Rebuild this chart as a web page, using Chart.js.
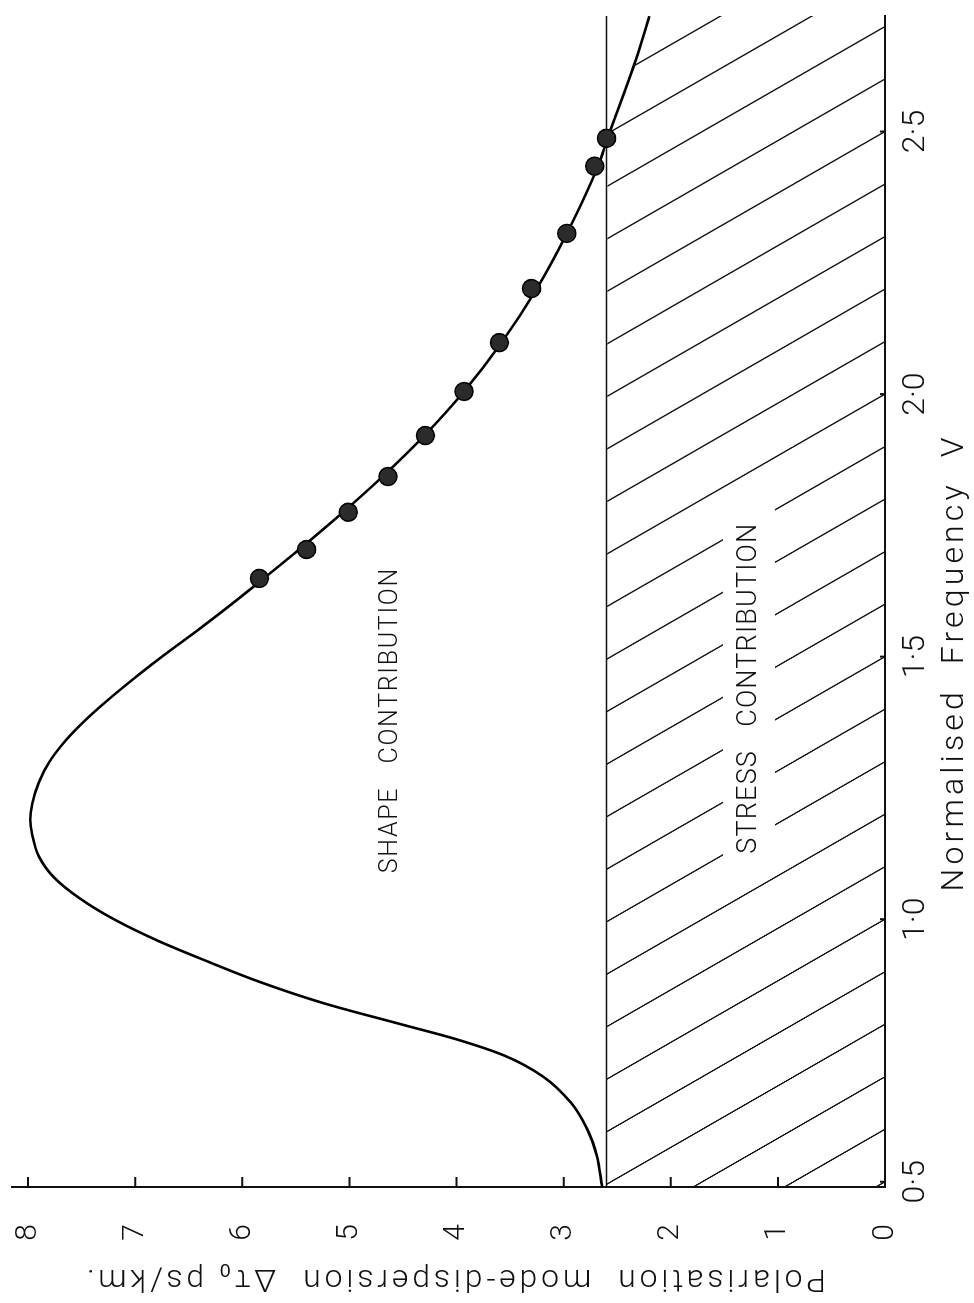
<!DOCTYPE html>
<html>
<head>
<meta charset="utf-8">
<script src="https://cdn.jsdelivr.net/npm/chart.js@4.4.1/dist/chart.umd.min.js"></script>
<style>
html, body { margin: 0; padding: 0; background: #fff; overflow: hidden; }
/* the figure is printed sideways: draw it upright, then turn it a quarter left */
#wrap { position: absolute; left: 0; top: 0; width: 1303px; height: 974px;
        transform-origin: 0 0; transform: translateY(1303px) rotate(-90deg); }
canvas { display: block; }
</style>
</head>
<body>
<div id="wrap"><canvas id="chart" width="1303" height="974"></canvas></div>
<script>
// normalised frequency V (x) and polarisation mode-dispersion, ps/km (y)
const curveV = [0.49, 0.55, 0.60, 0.65, 0.70, 0.74, 0.77, 0.80, 0.84, 0.88, 0.92, 0.96, 1.00, 1.04,
                1.08, 1.12, 1.16, 1.19, 1.22, 1.26, 1.30, 1.34, 1.38, 1.42, 1.47, 1.50, 1.556, 1.60,
                1.649, 1.704, 1.775, 1.843, 1.921, 2.005, 2.098, 2.201, 2.306, 2.434, 2.487, 2.64, 2.72];
const curveD = [2.64, 2.69, 2.78, 2.93, 3.19, 3.55, 3.98, 4.52, 5.24, 5.83, 6.33, 6.80, 7.20, 7.52,
                7.76, 7.90, 7.96, 7.98, 7.96, 7.90, 7.80, 7.65, 7.46, 7.24, 6.94, 6.75, 6.38, 6.10,
                5.80, 5.47, 5.06, 4.69, 4.30, 3.93, 3.58, 3.25, 2.97, 2.68, 2.59, 2.32, 2.20];

// measured points
const pointV = [1.649, 1.704, 1.775, 1.843, 1.921, 2.005, 2.098, 2.201, 2.306, 2.434, 2.487];
const pointD = [5.84, 5.40, 5.01, 4.64, 4.29, 3.93, 3.60, 3.30, 2.97, 2.71, 2.60];

const stressLevel = 2.6;
const vMin = 0.49, vMax = 2.72;
const dMin = 0, dMax = 8.15;

const freqTicks = [0.5, 1.0, 1.5, 2.0, 2.5];
const freqTickLabels = ['0·5', '1·0', '1·5', '2·0', '2·5'];
const dispTicks = [0, 1, 2, 3, 4, 5, 6, 7, 8];
const dispTickLabels = ['0', '1', '2', '3', '4', '5', '6', '7', '8'];

const xTitle = 'Normalised  Frequency  V';
const yTitle = 'Polarisation  mode-dispersion  \u0394\u03C4\u2080 ps/km.';
const shapeLabel = 'SHAPE   CONTRIBUTION';
const stressLabel = 'STRESS   CONTRIBUTION';

// hatching: one line every 0.1 in V along the axis, leaning 0.305 in V across the band
const hatchAnchorV = 2.0, hatchStepV = 0.1, hatchShiftV = 0.305;

const FONT = "Roboto, 'Liberation Sans', sans-serif";

const curve = curveV.map((v, i) => ({ x: v, y: curveD[i] }));
const points = pointV.map((v, i) => ({ x: v, y: pointD[i] }));
const stress = [{ x: vMin, y: stressLevel }, { x: vMax, y: stressLevel }];
// hatched area: under the stress line, and under the curve once it dips below it
const hatchBound = [{ x: vMin, y: stressLevel }].concat(curve.filter(p => p.x > 2 && p.y <= stressLevel));

const tile = document.createElement('canvas');
tile.width = 105; tile.height = 183;
const tctx = tile.getContext('2d');
tctx.strokeStyle = '#111';
tctx.lineWidth = 2.8;
for (let k = -2; k <= 2; k++) {
    tctx.beginPath();
    tctx.moveTo(k * 105 - 105, -183);
    tctx.lineTo(k * 105 + 210, 366);
    tctx.stroke();
}
const hatchPattern = tctx.createPattern(tile, 'repeat');

function drawSpaced(ctx, text, x, y, size, target, angle) {
    ctx.save();
    ctx.translate(x, y);
    ctx.rotate(angle || 0);
    ctx.font = '300 ' + size + 'px ' + FONT;
    ctx.letterSpacing = '0px';
    const w0 = ctx.measureText(text).width;
    ctx.letterSpacing = ((target - w0) / text.length) + 'px';
    ctx.fillStyle = '#111';
    ctx.textAlign = 'left';
    ctx.textBaseline = 'middle';
    ctx.fillText(text, -target / 2, 0);
    ctx.restore();
}

const figurePlugin = {
    id: 'figure',
    beforeDatasetsDraw(chart) {
        const x = chart.scales.x, y = chart.scales.y;
        const w = x.getPixelForValue(hatchAnchorV + hatchStepV) - x.getPixelForValue(hatchAnchorV);
        const slope = (y.getPixelForValue(0) - y.getPixelForValue(stressLevel)) /
                      (x.getPixelForValue(hatchShiftV) - x.getPixelForValue(0));
        hatchPattern.setTransform(new DOMMatrix()
            .translate(x.getPixelForValue(hatchAnchorV), y.getPixelForValue(0))
            .scale(w / 105, w * slope / 183));
    },
    afterDraw(chart) {
        const ctx = chart.ctx, x = chart.scales.x, y = chart.scales.y, a = chart.chartArea;

        // gap in the hatching behind the stress label
        const sx = x.getPixelForValue(1.44), sy = y.getPixelForValue(1.27);
        ctx.save();
        ctx.fillStyle = '#fff';
        ctx.fillRect(sx - 182, sy - 26, 364, 52);
        ctx.restore();
        drawSpaced(ctx, stressLabel, sx, sy, 27, 331);
        drawSpaced(ctx, shapeLabel, x.getPixelForValue(1.379), y.getPixelForValue(4.61), 25, 306);

        // inward tick marks
        ctx.save();
        ctx.strokeStyle = '#111';
        ctx.lineWidth = 2;
        ctx.beginPath();
        dispTicks.forEach(d => {
            const py = y.getPixelForValue(d);
            ctx.moveTo(a.left, py);
            ctx.lineTo(a.left + 10, py);
        });
        freqTicks.forEach(v => {
            const px = x.getPixelForValue(v);
            ctx.moveTo(px, a.bottom);
            ctx.lineTo(px, a.bottom - 5);
        });
        ctx.stroke();
        ctx.restore();

        drawSpaced(ctx, xTitle, x.getPixelForValue(1.489), a.bottom + 70, 32, 458);
        drawSpaced(ctx, yTitle, 25, y.getPixelForValue(4.02), 32, 743, -Math.PI / 2);
    }
};

new Chart(document.getElementById('chart'), {
    type: 'scatter',
    data: {
        datasets: [
            {
                label: 'measured',
                data: points,
                order: 0,
                pointRadius: 9,
                pointBackgroundColor: '#2b2b2b',
                pointBorderColor: '#000',
                pointBorderWidth: 1.5,
                showLine: false
            },
            {
                label: 'shape + stress',
                data: curve,
                order: 1,
                showLine: true,
                borderColor: '#000',
                borderWidth: 2.6,
                pointRadius: 0,
                cubicInterpolationMode: 'monotone'
            },
            {
                label: 'stress',
                data: stress,
                order: 2,
                showLine: true,
                borderColor: '#111',
                borderWidth: 1.6,
                pointRadius: 0
            },
            {
                label: 'hatch',
                data: hatchBound,
                order: 3,
                showLine: true,
                borderWidth: 0,
                borderColor: 'rgba(0,0,0,0)',
                pointRadius: 0,
                backgroundColor: hatchPattern,
                fill: 'origin'
            }
        ]
    },
    options: {
        responsive: false,
        animation: false,
        devicePixelRatio: 1,
        layout: { autoPadding: false, padding: { top: 12, right: 16, left: 0, bottom: 0 } },
        plugins: {
            legend: { display: false },
            title: { display: false },
            tooltip: { enabled: false }
        },
        scales: {
            x: {
                type: 'linear',
                position: 'bottom',
                min: vMin,
                max: vMax,
                afterFit: s => { s.height = 89; s.paddingLeft = 0; s.paddingRight = 0; },
                afterBuildTicks: s => { s.ticks = freqTicks.map(v => ({ value: v })); },
                grid: { display: false },
                border: { display: true, color: '#111', width: 2 },
                ticks: {
                    color: '#111',
                    padding: 4,
                    maxRotation: 0,
                    font: { family: FONT, size: 32, weight: 300 },
                    callback: (val, i) => freqTickLabels[i]
                }
            },
            y: {
                type: 'linear',
                position: 'left',
                min: dMin,
                max: dMax,
                afterFit: s => { s.width = 116; s.paddingTop = 0; s.paddingBottom = 0; },
                afterBuildTicks: s => { s.ticks = dispTicks.map(v => ({ value: v })); },
                grid: { display: false },
                border: { display: true, color: '#111', width: 2 },
                ticks: {
                    color: '#111',
                    padding: 29,
                    font: { family: FONT, size: 30, weight: 300 },
                    callback: (val, i) => dispTickLabels[i]
                }
            }
        }
    },
    plugins: [figurePlugin]
});
</script>
</body>
</html>
